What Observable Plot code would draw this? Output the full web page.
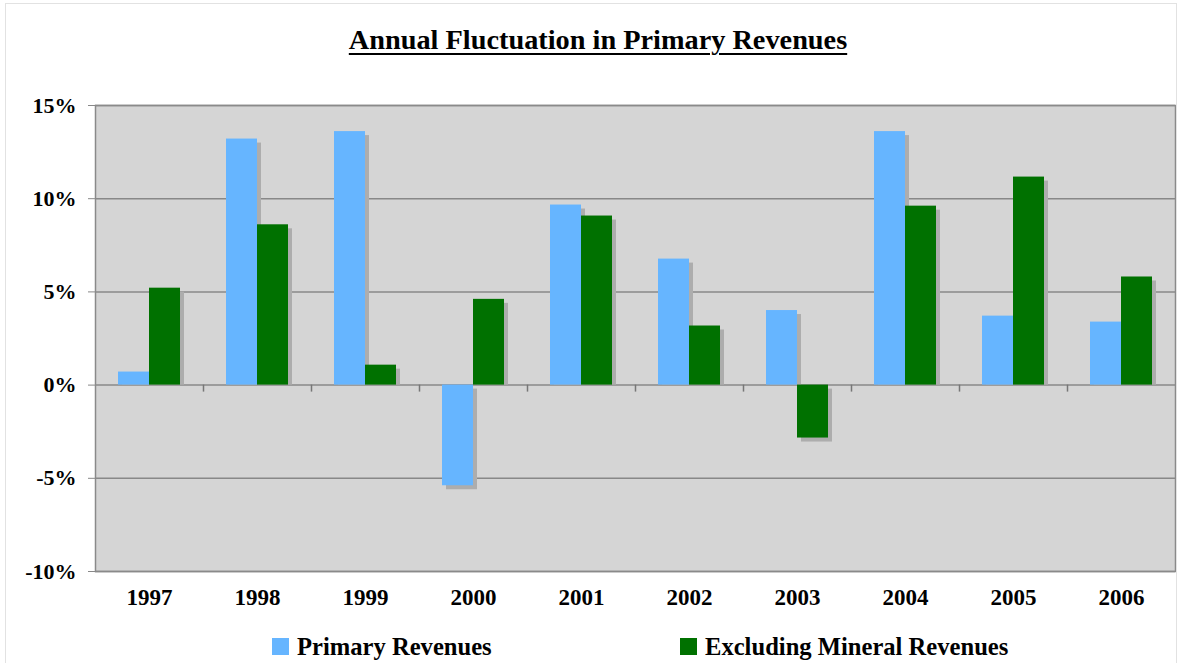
<!DOCTYPE html>
<html>
<head>
<meta charset="utf-8">
<script src="https://cdn.jsdelivr.net/npm/d3@7"></script>
<script src="https://cdn.jsdelivr.net/npm/@observablehq/plot@0.6"></script>
<style>
  html, body { margin: 0; padding: 0; background: #fff; }
  body { width: 1184px; height: 663px; position: relative; overflow: hidden; font-family: "Liberation Serif", "DejaVu Serif", serif; }
  #frame { position: absolute; left: 5px; top: 3px; width: 1172px; height: 670px; border: 1px solid #e2e2e2; box-sizing: border-box; pointer-events: none; }
  #title { height: 75px; text-align: center; font-weight: bold; font-size: 28.3px; text-decoration: underline; text-decoration-thickness: 2px; text-underline-offset: 4px; line-height: 1; padding-top: 26px; box-sizing: border-box; padding-left: 12px; }
  #chart { height: 540px; }
  #legend { position: relative; height: 48px; font-weight: bold; font-size: 24.6px; }
  .item { position: absolute; top: 19px; display: flex; align-items: center; line-height: 25px; }
  .sw { width: 17px; height: 17px; margin-right: 8px; }
</style>
</head>
<body>
<div id="frame"></div>
<div id="title">Annual Fluctuation in Primary Revenues</div>
<div id="chart"></div>
<div id="legend"></div>
<script>
const years = ["1997","1998","1999","2000","2001","2002","2003","2004","2005","2006"];
const primary = [0.7, 13.2, 13.6, -5.4, 9.66, 6.76, 4.0, 13.6, 3.7, 3.38];
const excluding = [5.2, 8.6, 1.07, 4.6, 9.07, 3.17, -2.84, 9.6, 11.16, 5.8];
const seriesNames = ["Primary Revenues", "Excluding Mineral Revenues"];
const seriesColors = ["#66b5ff", "#007100"];
const yTicks = [-10, -5, 0, 5, 10, 15];

const rowsP = years.map((y, i) => ({year: y, value: primary[i]}));
const rowsE = years.map((y, i) => ({year: y, value: excluding[i]}));
const shadowColor = "#adadad";

const chart = Plot.plot({
  width: 1184,
  height: 540,
  marginLeft: 95,
  marginRight: 9,
  marginTop: 30,
  marginBottom: 44,
  style: {fontFamily: "'Liberation Serif', serif", background: "transparent"},
  x: {domain: years, paddingInner: 0.426, paddingOuter: 0.213, label: null},
  y: {domain: [-10, 15], ticks: yTicks, label: null},
  marks: [
    Plot.frame({fill: "#d5d5d5", stroke: null}),
    Plot.ruleY(yTicks, {stroke: "#888", strokeWidth: 1.5}),
    // shadows
    Plot.barY(rowsP.filter(d => d.value > 0), {x: "year", y: "value", fill: shadowColor, insetRight: 31, dx: 4, insetTop: 4}),
    Plot.barY(rowsP.filter(d => d.value < 0), {x: "year", y: "value", fill: shadowColor, insetRight: 31, dx: 4, dy: 4}),
    Plot.barY(rowsE.filter(d => d.value > 0), {x: "year", y: "value", fill: shadowColor, insetLeft: 31, dx: 4, insetTop: 4}),
    Plot.barY(rowsE.filter(d => d.value < 0), {x: "year", y: "value", fill: shadowColor, insetLeft: 31, dx: 4, dy: 4}),
    // bars
    Plot.barY(rowsP, {x: "year", y: "value", fill: seriesColors[0], insetRight: 31}),
    Plot.barY(rowsE, {x: "year", y: "value", fill: seriesColors[1], insetLeft: 31}),
    // category boundary ticks along the zero line
    Plot.ruleX(years.slice(1), {x: d => d, y1: 0, y2: 0, insetBottom: -7, dx: -54, stroke: "#777", strokeWidth: 1.5}),
    Plot.frame({stroke: "#8a8a8a", strokeWidth: 1.5}),
    Plot.ruleX([0], {frameAnchor: "left", stroke: "#777", strokeWidth: 2}),
    Plot.axisY({ticks: yTicks, tickFormat: d => d + "%", tickSize: 7, tickPadding: 12, stroke: "#888", fontSize: 22, fontWeight: "bold", fill: "#000"}),
    Plot.axisX({tickSize: 0, tickPadding: 17, fontSize: 23, fontWeight: "bold", fill: "#000"})
  ]
});
document.getElementById("chart").appendChild(chart);

const legend = document.getElementById("legend");
const positions = [272, 680];
seriesNames.forEach((name, i) => {
  const it = document.createElement("div");
  it.className = "item";
  it.style.left = positions[i] + "px";
  const sw = document.createElement("div");
  sw.className = "sw";
  sw.style.background = seriesColors[i];
  const t = document.createElement("span");
  t.textContent = name;
  it.appendChild(sw);
  it.appendChild(t);
  legend.appendChild(it);
});
</script>
</body>
</html>
